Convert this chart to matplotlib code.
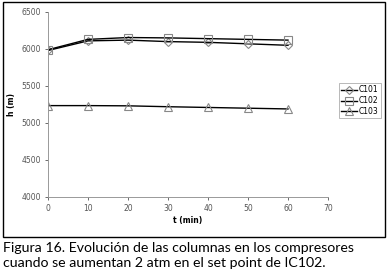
import matplotlib
matplotlib.use('Agg')
import matplotlib.pyplot as plt
from matplotlib.patches import Rectangle

# Data
t = [0, 10, 20, 30, 40, 50, 60]
c101 = [5980, 6110, 6120, 6100, 6090, 6070, 6050]
c102 = [5990, 6130, 6155, 6150, 6140, 6130, 6120]
c103 = [5235, 5235, 5232, 5220, 5210, 5200, 5190]
series = [('C101', c101, 'D'), ('C102', c102, 's'), ('C103', c103, '^')]
xticks = [0, 10, 20, 30, 40, 50, 60, 70]
yticks = [4000, 4500, 5000, 5500, 6000, 6500]
caption = ['Figura 16. Evolución de las columnas en los compresores',
           'cuando se aumentan 2 atm en el set point de IC102.']

W, H = 392, 279
fig = plt.figure(figsize=(W / 100, H / 100), dpi=100)

# outer frame round the chart
fig.add_artist(Rectangle((3 / W, 1 - 237 / H), 382 / W, 235 / H,
                         transform=fig.transFigure, fill=False, lw=1.0, ec='black'))

ax = fig.add_axes([48 / W, 1 - 197 / H, 280 / W, 185 / H])
for name, vals, mk in series:
    ax.plot(t, vals, color='black', lw=1.0, marker=mk, ms=6 if mk != 'D' else 4.5,
            mfc='none', mec='#888888', mew=0.8, label=name)

ax.set_xlim(0, 70)
ax.set_ylim(4000, 6500)
ax.set_xticks(xticks)
ax.set_yticks(yticks)
ax.tick_params(labelsize=5.5, colors='#555555', length=2, width=0.6, pad=3)
for s in ['top', 'right']:
    ax.spines[s].set_visible(False)
for s in ['left', 'bottom']:
    ax.spines[s].set_color('#999999')
    ax.spines[s].set_linewidth(0.7)
ax.set_xlabel('t (min)', fontsize=5.5, fontweight='bold', labelpad=2)
ax.set_ylabel('h (m)', fontsize=5.5, fontweight='bold', labelpad=4)

leg = ax.legend(loc='upper left', bbox_to_anchor=(339 / W, 1 - 83 / H),
                bbox_transform=fig.transFigure, fontsize=5.5, frameon=True,
                fancybox=False, borderpad=0.3, handlelength=2.0,
                handletextpad=0.3, labelspacing=0.25, borderaxespad=0)
leg.get_frame().set_edgecolor('#999999')
leg.get_frame().set_linewidth(0.6)

for i, line in enumerate(caption):
    fig.text(3 / W, 1 - (252 + 15 * i) / H, line, fontsize=10.2,
             family='Lato', va='baseline', ha='left')

fig.savefig('out.png', dpi=100)
